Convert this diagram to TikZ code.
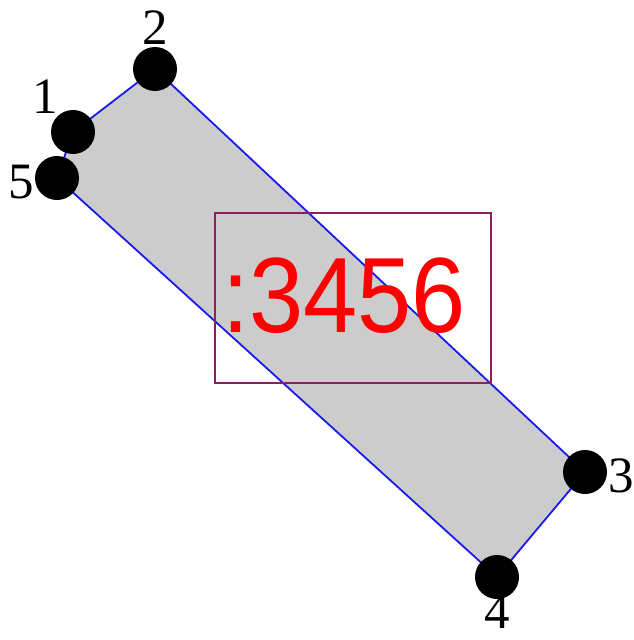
\documentclass[tikz,border=0pt]{standalone}
\usepackage{fontspec}
\setmainfont{Liberation Serif}
\newfontfamily\lcdfont{Liberation Sans}
\definecolor{edgeblue}{RGB}{25,25,235}
\definecolor{boxmaroon}{RGB}{145,30,95}
\definecolor{polyfill}{RGB}{204,204,204}
\begin{document}
\begin{tikzpicture}[x=1pt,y=-1pt,
  dot/.style={circle,fill=black,minimum size=44pt,inner sep=0pt},
  lbl/.style={font=\fontsize{51}{51}\selectfont,inner sep=0pt},
  edge/.style={draw=edgeblue,line width=1.8pt}]
\useasboundingbox (0,0) rectangle (634,640);
\coordinate (p1) at (73,132);
\coordinate (p2) at (155,69);
\coordinate (p3) at (585,472);
\coordinate (p4) at (497,577);
\coordinate (p5) at (57,178);
\fill[polyfill] (p1)--(p2)--(p3)--(p4)--(p5)--cycle;
\draw[edge] (p1)--(p2)--(p3)--(p4)--(p5)--cycle;
\node[draw=boxmaroon,line width=2pt,minimum width=276pt,minimum height=170pt,inner sep=0pt] (box) at (353,298) {};
\node[text=red,font=\lcdfont\fontsize{107}{107}\selectfont,inner sep=0pt,xscale=0.91] (txt) at (344,296) {:3456};
\node[dot] (d1) at (p1) {};
\node[dot] (d2) at (p2) {};
\node[dot] (d3) at (p3) {};
\node[dot] (d4) at (p4) {};
\node[dot] (d5) at (p5) {};
\node[lbl] (l1) at (45,97) {1};
\node[lbl] (l2) at (155,28) {2};
\node[lbl] (l3) at (621,476) {3};
\node[lbl] (l4) at (497,612) {4};
\node[lbl] (l5) at (21,182) {5};
\end{tikzpicture}
\end{document}
